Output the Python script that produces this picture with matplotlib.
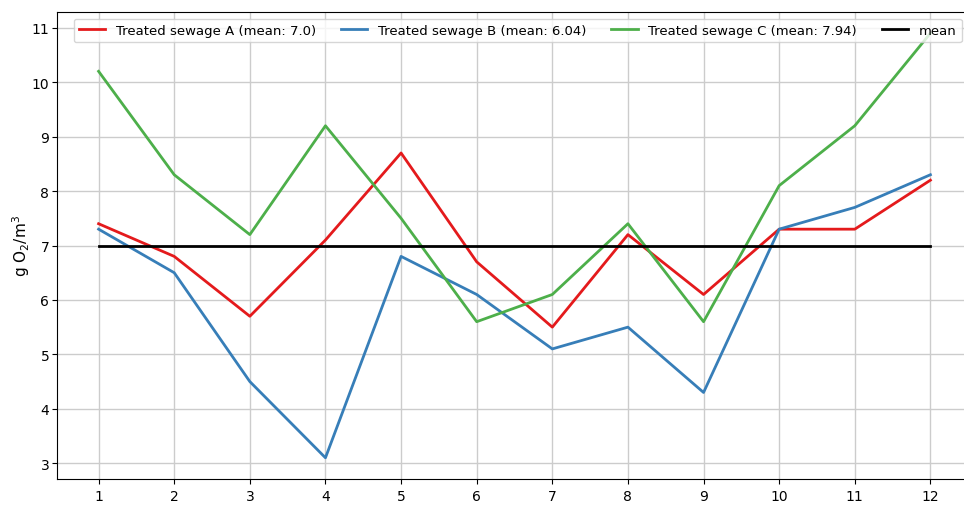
import numpy as np
import matplotlib.pyplot as plt

months = [1, 2, 3, 4, 5, 6, 7, 8, 9, 10, 11, 12]
sewage_a = [7.4, 6.8, 5.7, 7.1, 8.7, 6.7, 5.5, 7.2, 6.1, 7.3, 7.3, 8.2]
sewage_b = [7.3, 6.5, 4.5, 3.1, 6.8, 6.1, 5.1, 5.5, 4.3, 7.3, 7.7, 8.3]
sewage_c = [10.2, 8.3, 7.2, 9.2, 7.5, 5.6, 6.1, 7.4, 5.6, 8.1, 9.2, 10.9]
overall_mean = 7.0

fig = plt.figure(figsize=(9.64, 5.10), dpi=100)
ax = fig.add_axes([57 / 964, 30 / 510, 915 / 964, 467 / 510])

ax.plot(months, sewage_a, color='#e41a1c', lw=2,
        label=f"Treated sewage A (mean: {round(np.mean(sewage_a), 2)})")
ax.plot(months, sewage_b, color='#377eb8', lw=2,
        label=f"Treated sewage B (mean: {round(np.mean(sewage_b), 2)})")
ax.plot(months, sewage_c, color='#4daf4a', lw=2,
        label=f"Treated sewage C (mean: {round(np.mean(sewage_c), 2)})")
ax.plot(months, [overall_mean] * len(months), color='black', lw=2, label='mean')

ax.set_xticks(months)
ax.set_xlim(0.45, 12.55)
ax.grid(True, color='#cccccc', lw=1)
ax.tick_params(labelsize=10)
ax.tick_params(axis='y', pad=2)
ax.set_xlabel('Month', fontsize=10)
ax.set_ylabel('g O$_2$/m$^3$', fontsize=11, labelpad=0)

ax.legend(ncol=4, loc='upper left', bbox_to_anchor=(0.011, 1.0),
          fontsize=9.5, columnspacing=1.9, framealpha=0.8)

fig.savefig('out.png', dpi=100)
